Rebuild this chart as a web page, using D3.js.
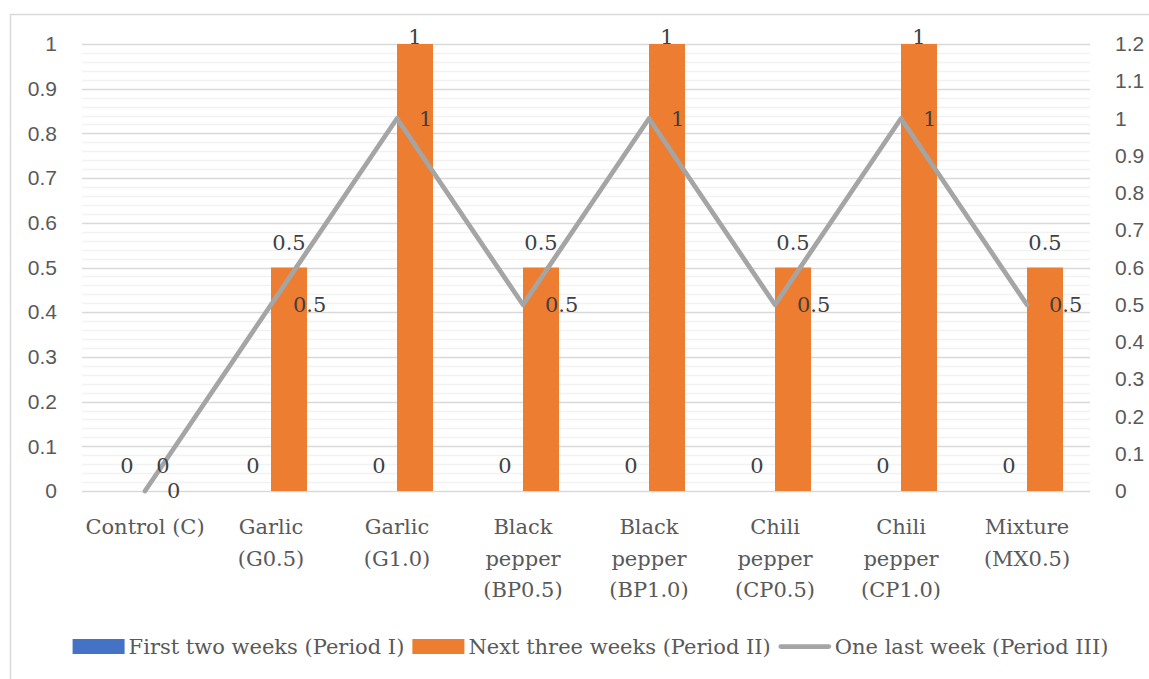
<!DOCTYPE html>
<html>
<head>
<meta charset="utf-8">
<script src="https://cdn.jsdelivr.net/npm/d3@7"></script>
<style>
  html, body { margin: 0; padding: 0; background: #fff; }
  svg { display: block; font-family: "DejaVu Serif", "Liberation Serif", serif; }
</style>
</head>
<body>
<svg id="chart" width="1149" height="679"></svg>
<script>
// Treatments along the x axis
const categories = [
  "Control (C)", "Garlic (G0.5)", "Garlic (G1.0)", "Black pepper (BP0.5)",
  "Black pepper (BP1.0)", "Chili pepper (CP0.5)", "Chili pepper (CP1.0)", "Mixture (MX0.5)"
];
// Series values
const periodI   = [0, 0, 0, 0, 0, 0, 0, 0];
const periodII  = [0, 0.5, 1, 0.5, 1, 0.5, 1, 0.5];
const periodIII = [0, 0.5, 1, 0.5, 1, 0.5, 1, 0.5];
const seriesNames = ["First two weeks (Period I)", "Next three weeks (Period II)", "One last week (Period III)"];
// Axis ticks
const leftTicks  = [0, 0.1, 0.2, 0.3, 0.4, 0.5, 0.6, 0.7, 0.8, 0.9, 1];
const rightTicks = [0, 0.1, 0.2, 0.3, 0.4, 0.5, 0.6, 0.7, 0.8, 0.9, 1, 1.1, 1.2];

const colors = { I: "#4472c4", II: "#ed7d31", III: "#a5a5a5" };
const textColor = "#595959";
const labelColor = "#404040";
const fs = 21;

const svg = d3.select("#chart");
const plot = { left: 82, right: 1090, top: 44, bottom: 491 };

// chart area border
svg.append("rect")
  .attr("x", 10.5).attr("y", 14.5).attr("width", 1200).attr("height", 700)
  .attr("fill", "#fff").attr("stroke", "#d9d9d9").attr("stroke-width", 1.5);

const x = d3.scaleBand().domain(categories).range([plot.left, plot.right]).paddingInner(0).paddingOuter(0);
const yL = d3.scaleLinear().domain([0, 1]).range([plot.bottom, plot.top]);
const yR = d3.scaleLinear().domain([0, 1.2]).range([plot.bottom, plot.top]);

// minor gridlines every 0.02, major every 0.1
const minor = d3.range(0, 1.0001, 0.02).filter(v => Math.abs(v * 10 - Math.round(v * 10)) > 1e-6);
svg.append("g").selectAll("line").data(minor).join("line")
  .attr("x1", plot.left).attr("x2", plot.right)
  .attr("y1", d => Math.round(yL(d)) + 0.5).attr("y2", d => Math.round(yL(d)) + 0.5)
  .attr("stroke", "#f2f2f2").attr("stroke-width", 1.5);
svg.append("g").selectAll("line").data(leftTicks).join("line")
  .attr("x1", plot.left).attr("x2", plot.right)
  .attr("y1", d => Math.round(yL(d)) + 0.5).attr("y2", d => Math.round(yL(d)) + 0.5)
  .attr("stroke", "#d9d9d9").attr("stroke-width", 1.5);

// left axis
const axL = svg.append("g").attr("transform", `translate(${plot.left},0)`)
  .call(d3.axisLeft(yL).tickValues(leftTicks).tickSize(0).tickPadding(25).tickFormat(d3.format("~g")));
axL.select(".domain").remove();
axL.selectAll("text").attr("fill", textColor).attr("font-size", fs).attr("font-family", null);

// right axis
const axR = svg.append("g").attr("transform", `translate(${plot.right},0)`)
  .call(d3.axisRight(yR).tickValues(rightTicks).tickSize(0).tickPadding(25).tickFormat(d3.format("~g")));
axR.select(".domain").remove();
axR.selectAll("text").attr("fill", textColor).attr("font-size", fs).attr("font-family", null);

// bars
const barW = x.bandwidth() * 2 / 7;
const groups = [
  { key: "I", values: periodI, offset: -barW },
  { key: "II", values: periodII, offset: 0 }
];
groups.forEach(g => {
  svg.append("g").selectAll("rect").data(g.values).join("rect")
    .attr("x", (d, i) => x(categories[i]) + x.bandwidth() / 2 + g.offset)
    .attr("width", barW)
    .attr("y", d => yL(d))
    .attr("height", d => yL(0) - yL(d))
    .attr("fill", colors[g.key]);
});

// line (secondary axis)
const line = d3.line()
  .x((d, i) => x(categories[i]) + x.bandwidth() / 2)
  .y(d => yR(d));
svg.append("path").datum(periodIII)
  .attr("d", line).attr("fill", "none")
  .attr("stroke", colors.III).attr("stroke-width", 4.75)
  .attr("stroke-linejoin", "round").attr("stroke-linecap", "round");

// bar labels (above bar ends, kept inside chart area)
groups.forEach(g => {
  svg.append("g").selectAll("text").data(g.values).join("text")
    .attr("x", (d, i) => x(categories[i]) + x.bandwidth() / 2 + g.offset + barW / 2)
    .attr("y", d => Math.max(yL(d) - 18, plot.top))
    .attr("text-anchor", "middle")
    .attr("font-size", fs).attr("fill", labelColor)
    .text(d => d3.format("~g")(d));
});

// line labels (right of points)
svg.append("g").selectAll("text").data(periodIII).join("text")
  .attr("x", (d, i) => x(categories[i]) + x.bandwidth() / 2 + 22)
  .attr("y", d => yR(d))
  .attr("dy", "0.35em")
  .attr("font-size", fs).attr("fill", labelColor)
  .text(d => d3.format("~g")(d));

// category labels, wrapped
const catG = svg.append("g");
categories.forEach(c => {
  const t = catG.append("text")
    .attr("x", x(c) + x.bandwidth() / 2)
    .attr("y", 534)
    .attr("text-anchor", "middle")
    .attr("font-size", fs).attr("fill", textColor);
  const words = c.split(" ");
  let lines = [], cur = [];
  words.forEach(w => {
    const tryLine = cur.concat(w).join(" ");
    t.text(tryLine);
    if (cur.length && t.node().getComputedTextLength() > 122) {
      lines.push(cur.join(" "));
      cur = [w];
    } else {
      cur.push(w);
    }
  });
  lines.push(cur.join(" "));
  t.text(null);
  lines.forEach((l, i) => {
    t.append("tspan").attr("x", x(c) + x.bandwidth() / 2).attr("dy", i === 0 ? 0 : 31.5).text(l);
  });
});

// legend, laid out left to right and centred under the chart
const legend = svg.append("g");
const legendTypes = ["rect", "rect", "line"];
const legendColors = [colors.I, colors.II, colors.III];
const symW = 52, symGap = 4, itemGap = 8, legendY = 646.5;
let cx = 0;
seriesNames.forEach((name, i) => {
  const item = legend.append("g").attr("transform", `translate(${cx},0)`);
  if (legendTypes[i] === "rect") {
    item.append("rect").attr("x", 0).attr("y", legendY - 7.5).attr("width", symW).attr("height", 15).attr("fill", legendColors[i]);
  } else {
    item.append("line").attr("x1", 2).attr("x2", symW - 2).attr("y1", legendY).attr("y2", legendY)
      .attr("stroke", legendColors[i]).attr("stroke-width", 4.75).attr("stroke-linecap", "round");
  }
  const t = item.append("text").attr("x", symW + symGap).attr("y", legendY).attr("dy", "0.35em")
    .attr("font-size", fs).attr("fill", textColor).text(name);
  cx += symW + symGap + t.node().getComputedTextLength() + itemGap;
});
const legendW = cx - itemGap;
legend.attr("transform", `translate(${590.5 - legendW / 2},0)`);
</script>
</body>
</html>
